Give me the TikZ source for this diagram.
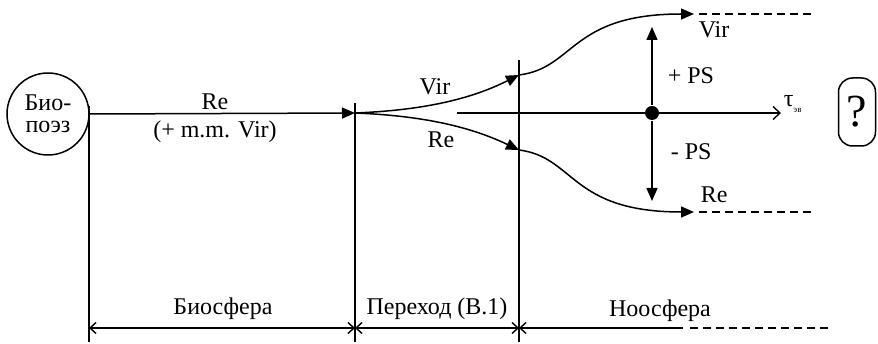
\documentclass[tikz,border=0pt]{standalone}
\usepackage{fontspec}
\setmainfont{Liberation Serif}
\usetikzlibrary{arrows.meta}

\begin{document}
\begin{tikzpicture}[x=1pt, y=-1pt, >={Triangle[length=13pt,width=11pt]},
    line width=1.5pt,
    every node/.style={font=\fontsize{24}{22}\selectfont, inner sep=0pt},
    barb/.tip={Straight Barb[length=6pt,width=11pt,line width=1.4pt]},
    dashline/.style={dash pattern=on 8pt off 5pt, line width=1.2pt}]
  \useasboundingbox (0,0) rectangle (878,344);
  % start circle
  \node[draw,circle,minimum size=82pt,align=center,font=\fontsize{24}{22}\selectfont] (bio) at (48,114) {Био-\\поэз};
  % boundaries
  \coordinate (b0top) at (89,106);   \coordinate (b0bot) at (89,342);
  \coordinate (b1top) at (355,103);  \coordinate (b1bot) at (355,342);
  \coordinate (b2top) at (519,60);   \coordinate (b2bot) at (519,342);
  \draw (b0top) -- (b0bot);
  \draw (b1top) -- (b1bot);
  \draw (b2top) -- (b2bot);
  % branches
  \coordinate (split) at (355,113);
  \coordinate (virin) at (519,75);   \coordinate (rein) at (519,150);
  \coordinate (virout) at (694,14);  \coordinate (reout) at (694,212);
  \coordinate (virend) at (812,14);  \coordinate (reend) at (812,212);
  \draw[->] (bio.east) -- (split);
  \draw[->] (split) .. controls (430,110) and (475,97) .. (virin);
  \draw[->] (split) .. controls (430,116) and (475,129) .. (rein);
  \draw[->] (virin) .. controls (575,68) and (570,14) .. (virout);
  \draw[->] (rein) .. controls (575,157) and (570,212) .. (reout);
  \draw[dashline] (virout) ++(5,0) -- (virend);
  \draw[dashline] (reout) ++(5,0) -- (reend);
  % evolution axis
  \coordinate (ax0) at (457,113);  \coordinate (ax1) at (781,113);
  \draw[-{Straight Barb[length=7pt,width=13pt,line width=1.4pt]}] (ax0) -- (ax1);
  \node[circle,fill,minimum size=14pt] (dot) at (652,113) {};
  \coordinate (psup) at (652,27);  \coordinate (psdn) at (652,201);
  \draw[->] (dot) -- (psup);
  \draw[->] (dot) -- (psdn);
  % labels
  \node[anchor=base] (lre) at (215,110) {Re};
  \node[anchor=base] (lmm) at (215,138) {(+ m.m. Vir)};
  \node[anchor=base] (lvir) at (435,95) {Vir};
  \node[anchor=base] (lre2) at (441,148) {Re};
  \node[anchor=base west] (lpsp) at (667,84) {+ PS};
  \node[anchor=base west] (lpsm) at (670,160) {- PS};
  \node[anchor=base west] (lvir2) at (698,38) {Vir};
  \node[anchor=base west] (lre3) at (700,203) {Re};
  \node[anchor=base west] (ltau) at (783,107) {τ\raisebox{-6pt}{\fontsize{9}{9}\selectfont эв}};
  \node[draw,rounded corners=14pt,minimum width=37pt,minimum height=68pt,font=\fontsize{46}{46}\selectfont] (quest) at (857,112) {?};
  % stages
  \coordinate (d0) at (89,328);   \coordinate (d1) at (355,328);
  \coordinate (d2) at (519,328);  \coordinate (d3) at (683,328);
  \coordinate (d4) at (830,328);
  \draw[barb-barb] (d0) -- (d1);
  \draw[barb-barb] (d1) -- (d2);
  \draw[barb-] (d2) -- (d3);
  \draw[dashline] (d3) ++(7,0) -- (d4);
  \node[anchor=base] (lbio) at (223,315) {Биосфера};
  \node[anchor=base] (lper) at (437,315) {Переход (В.1)};
  \node[anchor=base] (lnoo) at (660,317) {Ноосфера};
\end{tikzpicture}
\end{document}
